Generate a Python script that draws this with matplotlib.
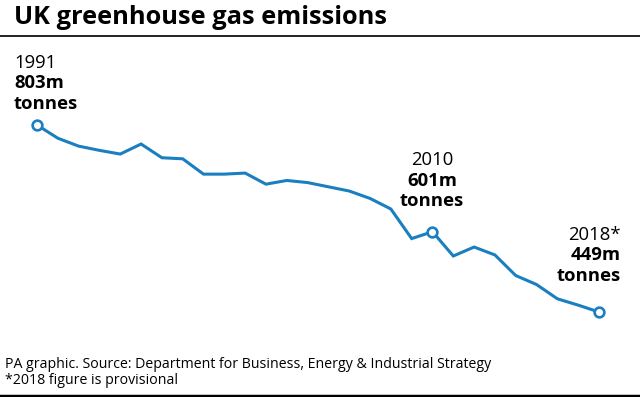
import matplotlib
matplotlib.use('Agg')
from matplotlib import pyplot as plt
from matplotlib.lines import Line2D

# emissions in million tonnes
years = list(range(1991, 2019))
emissions = [803, 778, 763, 755, 748, 767, 741, 739, 710, 710,
             712, 691, 698, 694, 686, 678, 664, 644, 588, 601,
             555, 572, 557, 518, 501, 474, 462, 449]

# highlighted years and their labels
marked_years = [1991, 2010, 2018]
marked_labels = ['1991', '2010', '2018*']

title = 'UK greenhouse gas emissions'
footer = ['PA graphic. Source: Department for Business, Energy & Industrial Strategy',
          '*2018 figure is provisional']

blue = '#1a7fc1'
plt.rcParams['font.family'] = ['Open Sans', 'DejaVu Sans']

W, H = 640, 397
fig = plt.figure(figsize=(W / 100, H / 100), dpi=100)

def px(x, y):
    # pixel position (from top-left) to figure fraction
    return x / W, 1 - y / H

# axes placed so that the line spans the same pixels as the original
left, top = px(37, 125)
right, bottom = px(599, 312)
ax = fig.add_axes([left, bottom, right - left, top - bottom])
ax.plot(years, emissions, color=blue, lw=2.2, solid_joinstyle='miter', clip_on=False)
mk = [emissions[years.index(y)] for y in marked_years]
ax.plot(marked_years, mk, 'o', ms=7, mfc='white', mec=blue, mew=1.9, clip_on=False, zorder=3)
ax.set_xlim(years[0], years[-1])
ax.set_ylim(min(emissions), max(emissions))
ax.axis('off')

# title and rules
fig.text(*px(14, 17), title, fontsize=18.3, fontweight='bold', va='center', ha='left')
fig.add_artist(Line2D([0, 1], [1 - 35.5 / H] * 2, color='#222222', lw=1.4, transform=fig.transFigure))
fig.add_artist(Line2D([0, 1], [1 - 395.5 / H] * 2, color='black', lw=2.5, transform=fig.transFigure))

# point labels
label_pos = [(14, 63, 'left'), (432, 160, 'center'), (621, 235, 'right')]
for (x, y, ha), lab, yr in zip(label_pos, marked_labels, marked_years):
    val = emissions[years.index(yr)]
    fig.text(*px(x, y), lab, fontsize=13.3, ha=ha, va='center')
    fig.text(*px(x, y + 20.5), f'{val}m', fontsize=13.3, fontweight='bold', ha=ha, va='center')
    fig.text(*px(x, y + 41), 'tonnes', fontsize=13.3, fontweight='bold', ha=ha, va='center')

# footer
fig.text(*px(5, 365), footer[0], fontsize=10.2, ha='left', va='center')
fig.text(*px(5, 381), footer[1], fontsize=10.2, ha='left', va='center')

fig.savefig('out.png', dpi=100, facecolor='white')
